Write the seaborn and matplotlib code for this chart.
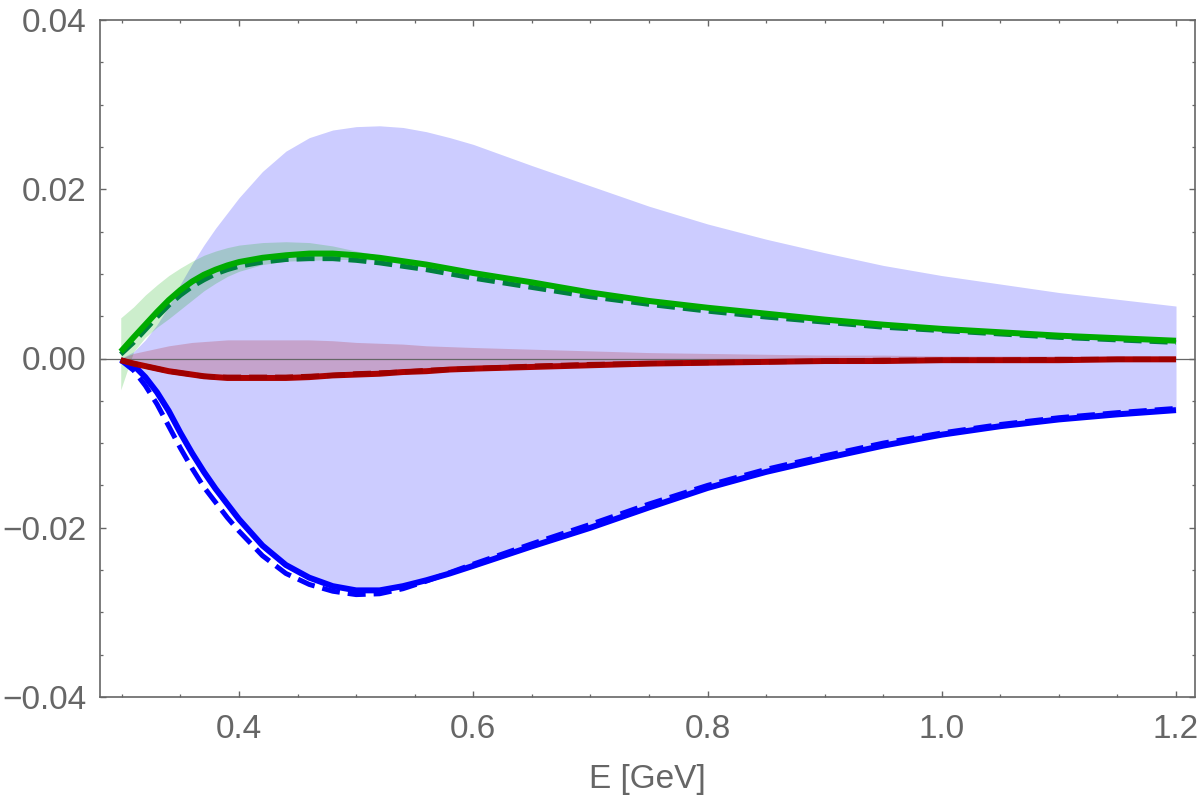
import numpy as np
import pandas as pd
import seaborn as sns
import matplotlib
matplotlib.use("Agg")
import matplotlib.pyplot as plt
from matplotlib.ticker import MultipleLocator, FixedLocator

# ---------------- data ----------------
E = [0.299, 0.31, 0.32, 0.33, 0.34, 0.35, 0.36, 0.37, 0.38, 0.39, 0.40,
     0.42, 0.44, 0.46, 0.48, 0.50, 0.52, 0.54, 0.56, 0.58, 0.60,
     0.65, 0.70, 0.75, 0.80, 0.85, 0.90, 0.95, 1.00, 1.05, 1.10, 1.15, 1.20]

blue_solid = [-0.0002, -0.0008, -0.0022, -0.0040, -0.0062, -0.0088, -0.0112, -0.0134, -0.0154, -0.0172, -0.0190,
              -0.0221, -0.0244, -0.0259, -0.0269, -0.0274, -0.0274, -0.0269, -0.0262, -0.0254, -0.0245,
              -0.0222, -0.0200, -0.0176, -0.0153, -0.0134, -0.0118, -0.0103, -0.0090, -0.0080, -0.0072, -0.0066, -0.0061]
blue_dashed = [-0.0002, -0.0014, -0.0032, -0.0054, -0.0080, -0.0106, -0.0130, -0.0152, -0.0170, -0.0188, -0.0204,
               -0.0233, -0.0254, -0.0267, -0.0275, -0.0279, -0.0278, -0.0272, -0.0263, -0.0253, -0.0243,
               -0.0219, -0.0196, -0.0172, -0.0150, -0.0131, -0.0115, -0.0100, -0.0088, -0.0078, -0.0070, -0.0064, -0.0059]
blue_band_hi = [0.0000, 0.0008, 0.0022, 0.0040, 0.0062, 0.0088, 0.0112, 0.0134, 0.0154, 0.0172, 0.0190,
                0.0221, 0.0245, 0.0261, 0.0270, 0.0274, 0.0275, 0.0273, 0.0268, 0.0261, 0.0253,
                0.0228, 0.0204, 0.0180, 0.0159, 0.0141, 0.0125, 0.0110, 0.0098, 0.0088, 0.0078, 0.0070, 0.0062]

green_solid = [0.0008, 0.0025, 0.0040, 0.0055, 0.0069, 0.0081, 0.0091, 0.0099, 0.0105, 0.0110, 0.0114,
               0.0119, 0.0122, 0.0124, 0.0124, 0.0122, 0.0119, 0.0115, 0.0111, 0.0106, 0.0101,
               0.0090, 0.0078, 0.0068, 0.0060, 0.0053, 0.0046, 0.0040, 0.0035, 0.0031, 0.0027, 0.0024, 0.0021]
green_dashed = [0.0005, 0.0019, 0.0034, 0.0049, 0.0063, 0.0075, 0.0085, 0.0093, 0.0100, 0.0105, 0.0109,
                0.0114, 0.0117, 0.0118, 0.0118, 0.0116, 0.0113, 0.0109, 0.0105, 0.0100, 0.0095,
                0.0084, 0.0073, 0.0064, 0.0056, 0.0049, 0.0043, 0.0037, 0.0033, 0.0029, 0.0025, 0.0022, 0.0019]
green_band_hi = [0.0048, 0.0061, 0.0075, 0.0087, 0.0098, 0.0107, 0.0115, 0.0122, 0.0127, 0.0131, 0.0134,
                 0.0137, 0.0138, 0.0137, 0.0133, 0.0127, 0.0122, 0.0117, 0.0112, 0.0107, 0.0102,
                 0.0091, 0.0079, 0.0069, 0.0061, 0.0054, 0.0047, 0.0041, 0.0036, 0.0032, 0.0028, 0.0025, 0.0022]
green_band_lo = [-0.0037, 0.0008, 0.0025, 0.0037, 0.0047, 0.0058, 0.0069, 0.0080, 0.0089, 0.0097, 0.0103,
                 0.0111, 0.0115, 0.0116, 0.0117, 0.0117, 0.0116, 0.0113, 0.0109, 0.0105, 0.0100,
                 0.0088, 0.0076, 0.0066, 0.0058, 0.0051, 0.0044, 0.0038, 0.0034, 0.0030, 0.0026, 0.0023, 0.0020]

red_solid = [-0.0002, -0.0006, -0.0009, -0.0012, -0.0015, -0.0017, -0.0019, -0.0021, -0.0022, -0.0023, -0.0023,
             -0.0023, -0.0023, -0.0022, -0.0020, -0.0019, -0.0018, -0.0016, -0.0015, -0.0013, -0.0012,
             -0.0010, -0.0008, -0.0006, -0.0005, -0.0004, -0.0003, -0.0003, -0.0002, -0.0002, -0.0002, -0.0001, -0.0001]
red_dashed = [-0.0002, -0.0006, -0.0009, -0.0012, -0.0015, -0.0017, -0.0019, -0.0021, -0.0022, -0.0022, -0.0022,
              -0.0022, -0.0022, -0.0021, -0.0020, -0.0018, -0.0017, -0.0016, -0.0014, -0.0013, -0.0012,
              -0.0009, -0.0007, -0.0006, -0.0005, -0.0004, -0.0003, -0.0002, -0.0002, -0.0002, -0.0001, -0.0001, -0.0001]
red_band_hi = [0.0000, 0.0006, 0.0009, 0.0012, 0.0015, 0.0017, 0.0019, 0.0020, 0.0021, 0.0022, 0.0022,
               0.0022, 0.0022, 0.0022, 0.0021, 0.0019, 0.0018, 0.0017, 0.0015, 0.0014, 0.0013,
               0.0011, 0.0009, 0.0007, 0.0006, 0.0005, 0.0004, 0.0004, 0.0003, 0.0003, 0.0003, 0.0002, 0.0002]

x_ticks = [0.4, 0.6, 0.8, 1.0, 1.2]
y_ticks = [-0.04, -0.02, 0.0, 0.02, 0.04]
x_label = "E [GeV]"

# ---------------- styling ----------------
sns.set_style("ticks")
plt.rcParams["font.family"] = ["Liberation Sans", "DejaVu Sans"]
GRAY = "#666666"

BLUE = (0.0, 0.0, 1.0)
GREEN = (0.0, 0.67, 0.0)
DKGREEN = (0.0, 0.50, 0.25)
RED = (0.67, 0.0, 0.0)

df = pd.DataFrame({
    "E": E,
    "blue_solid": blue_solid, "blue_dashed": blue_dashed,
    "green_solid": green_solid, "green_dashed": green_dashed,
    "red_solid": red_solid, "red_dashed": red_dashed,
})

fig = plt.figure(figsize=(12, 7.99), dpi=100)
ax = fig.add_axes([100 / 1200, 1 - 697 / 799, 1095 / 1200, 677 / 799])

# bands
ax.fill_between(E, blue_solid, blue_band_hi, color=BLUE, alpha=0.2, lw=0, zorder=1)
ax.fill_between(E, green_band_lo, green_band_hi, color=GREEN, alpha=0.2, lw=0, zorder=2)
ax.fill_between(E, red_solid, red_band_hi, color=RED, alpha=0.2, lw=0, zorder=3)

# zero line
ax.axhline(0, color=GRAY, lw=0.9, zorder=4)

SOLID_LW = 4.3
DASH_LW = 3.6
dash = (0, (3.6, 1.6))

sns.lineplot(data=df, x="E", y="green_dashed", ax=ax, color=DKGREEN, lw=DASH_LW,
             linestyle=dash, zorder=5, sort=False)
sns.lineplot(data=df, x="E", y="green_solid", ax=ax, color=GREEN, lw=SOLID_LW,
             solid_capstyle="butt", solid_joinstyle="round", zorder=6, sort=False)
sns.lineplot(data=df, x="E", y="blue_dashed", ax=ax, color=BLUE, lw=DASH_LW,
             linestyle=dash, zorder=5, sort=False)
sns.lineplot(data=df, x="E", y="blue_solid", ax=ax, color=BLUE, lw=SOLID_LW,
             solid_capstyle="butt", solid_joinstyle="round", zorder=6, sort=False)
sns.lineplot(data=df, x="E", y="red_solid", ax=ax, color=RED, lw=SOLID_LW,
             solid_capstyle="butt", solid_joinstyle="round", zorder=7, sort=False)
sns.lineplot(data=df, x="E", y="red_dashed", ax=ax, color=(0.62, 0.0, 0.0), lw=DASH_LW,
             linestyle=dash, zorder=8, sort=False)

ax.set_xlim(0.2813, 1.2162)
ax.set_ylim(-0.04, 0.04)

ax.xaxis.set_major_locator(FixedLocator(x_ticks))
ax.yaxis.set_major_locator(FixedLocator(y_ticks))
ax.xaxis.set_minor_locator(MultipleLocator(0.05))
ax.yaxis.set_minor_locator(MultipleLocator(0.005))
ax.set_xticklabels([f"{v:.1f}" for v in x_ticks])
ax.set_yticklabels([f"{v:.2f}".replace("-", "\u2212") for v in y_ticks])

for s in ax.spines.values():
    s.set_visible(True)
    s.set_color(GRAY)
    s.set_linewidth(1.2)

ax.tick_params(which="both", direction="in", top=True, right=True, color=GRAY,
               labelcolor=GRAY, labelsize=24)
ax.tick_params(which="major", length=4, width=1.0)
ax.tick_params(which="minor", length=2.2, width=0.9)
ax.tick_params(axis="x", which="major", pad=12)
ax.tick_params(axis="y", which="major", pad=10)

ax.set_xlabel(x_label, fontsize=24, color=GRAY, labelpad=14)
ax.set_ylabel("")

fig.savefig("out.png", dpi=100)
